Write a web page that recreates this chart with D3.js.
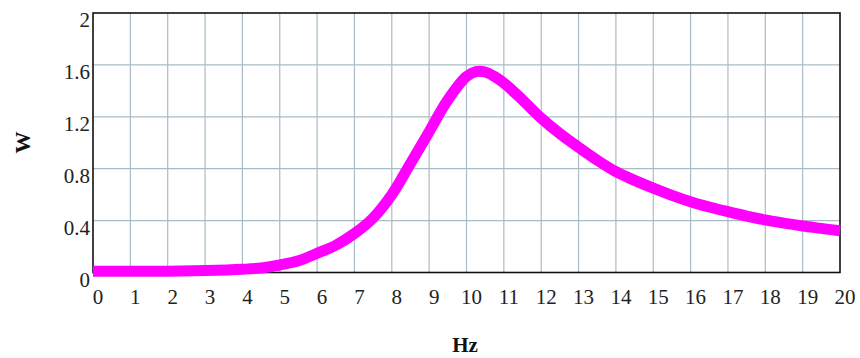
<!DOCTYPE html>
<html>
<head>
<meta charset="utf-8">
<script src="https://cdn.jsdelivr.net/npm/d3@7"></script>
<style>
    body { margin: 0; background: #fff; }
    svg { display: block; }
    .tick-label { font-family: "Liberation Serif", "Times New Roman", serif; font-size: 21px; fill: #222; }
    .axis-title { font-family: "Liberation Serif", "Times New Roman", serif; font-weight: bold; fill: #111; }
</style>
</head>
<body>
<div id="chart"></div>
<script>
// frequency (Hz) and power (W)
const hzValues = [0, 1, 2, 3, 4, 4.5, 5, 5.5, 6, 6.5, 7, 7.5, 8, 8.5, 9, 9.5, 10, 10.25, 10.5, 10.75, 11, 11.5, 12, 12.5, 13, 13.5, 14, 14.5, 15, 15.5, 16, 16.5, 17, 17.5, 18, 18.5, 19, 19.5, 20];
const wValues = [0.01, 0.01, 0.01, 0.015, 0.025, 0.035, 0.058, 0.09, 0.148, 0.21, 0.30, 0.42, 0.60, 0.84, 1.085, 1.33, 1.51, 1.548, 1.545, 1.51, 1.46, 1.33, 1.19, 1.07, 0.965, 0.865, 0.777, 0.71, 0.65, 0.595, 0.546, 0.505, 0.469, 0.435, 0.405, 0.38, 0.358, 0.34, 0.322];

const xTicks = d3.range(0, 21, 1);
const yTicks = [0, 0.4, 0.8, 1.2, 1.6, 2];
const yTickLabels = ["0", "0.4", "0.8", "1.2", "1.6", "2"];

const width = 860, height = 358;
const margin = { top: 13, right: 20, bottom: 85.5, left: 93 };
const innerW = width - margin.left - margin.right;
const innerH = height - margin.top - margin.bottom;

const svg = d3.select("#chart").append("svg")
    .attr("width", width)
    .attr("height", height);

const g = svg.append("g").attr("transform", `translate(${margin.left},${margin.top})`);

const x = d3.scaleLinear().domain([0, 20]).range([0, innerW]);
const y = d3.scaleLinear().domain([0, 2]).range([innerH, 0]);

// grid
g.selectAll(".vgrid")
    .data(xTicks.slice(1, -1))
    .enter().append("line")
    .attr("x1", d => x(d)).attr("x2", d => x(d))
    .attr("y1", 0).attr("y2", innerH)
    .style("stroke", "#a9bcc5").style("stroke-width", 1.2);

g.selectAll(".hgrid")
    .data(yTicks.slice(1, -1))
    .enter().append("line")
    .attr("x1", 0).attr("x2", innerW)
    .attr("y1", d => y(d)).attr("y2", d => y(d))
    .style("stroke", "#a9bcc5").style("stroke-width", 1.2);

// frame
g.append("rect")
    .attr("width", innerW).attr("height", innerH)
    .style("fill", "none").style("stroke", "#111").style("stroke-width", 1.6);

// curve
const points = hzValues.map((h, i) => [h, wValues[i]]);
const line = d3.line()
    .x(d => x(d[0]))
    .y(d => y(d[1]))
    .curve(d3.curveCatmullRom.alpha(0.5));

g.append("path")
    .datum(points)
    .attr("d", line)
    .style("fill", "none")
    .style("stroke", "#ff00ff")
    .style("stroke-width", 11)
    .style("stroke-linejoin", "round");

// y tick labels (top of text sits on the gridline)
g.selectAll(".ylab")
    .data(yTicks)
    .enter().append("text")
    .attr("class", "tick-label")
    .attr("x", -3)
    .attr("y", d => y(d) + 14)
    .attr("text-anchor", "end")
    .text((d, i) => yTickLabels[i]);

// x tick labels
g.selectAll(".xlab")
    .data(xTicks)
    .enter().append("text")
    .attr("class", "tick-label")
    .attr("x", d => x(d) + 5)
    .attr("y", innerH + 31)
    .attr("text-anchor", "middle")
    .text(d => d);

// axis titles
svg.append("text")
    .attr("class", "axis-title")
    .attr("x", 465)
    .attr("y", 352)
    .attr("text-anchor", "middle")
    .style("font-size", "21px")
    .text("Hz");

svg.append("text")
    .attr("class", "axis-title")
    .attr("transform", "translate(30,142.5) rotate(-90)")
    .attr("text-anchor", "middle")
    .style("font-size", "22px")
    .text("W");
</script>
</body>
</html>
